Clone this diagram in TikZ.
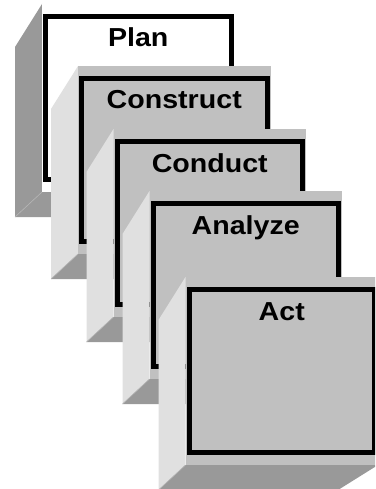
\documentclass[tikz,border=0pt]{standalone}
\usepackage{fontspec}
\setmainfont{Liberation Sans}
\definecolor{facegray}{HTML}{C0C0C0}
\definecolor{sidelight}{HTML}{E0E0E0}
\definecolor{sidedark}{HTML}{999999}
\definecolor{edgeline}{HTML}{B4B4B4}
\tikzset{
  framebox/.style={draw=black, line width=5pt, line join=miter},
  labeltext/.style={anchor=base, inner sep=0pt, font=\fontsize{26}{26}\selectfont\bfseries},
}
% #1 name, #2 fx, #3 fy, #4 label, #5 front fill, #6 side fill
\newcommand\cubeblock[6]{%
  \fill[#6] (#2,#3) -- (#2-27,#3+43) -- (#2-27,#3+213) -- (#2,#3+188) -- cycle;
  \fill[sidedark] (#2,#3+188) -- (#2+192.5,#3+188) -- (#2+152.5,#3+213) -- (#2-27,#3+213) -- cycle;
  \draw[edgeline, line width=0.6pt] (#2,#3+188) -- (#2-27,#3+213);
  \fill[#5] (#2,#3) rectangle (#2+192.5,#3+188);
  \draw[framebox] (#2+3.5,#3+12.5) rectangle (#2+189,#3+175.5);
  \node[labeltext] (#1) at (#2+96.25,#3+43) {\scalebox{1.1}[1]{#4}};
}
\begin{document}
\begin{tikzpicture}[x=1pt,y=-1pt]
\useasboundingbox (0,0) rectangle (375,489);
\clip (0,0) rectangle (375,489);
\cubeblock{plan}{42}{4}{Plan}{white}{sidedark}
\cubeblock{construct}{78}{66}{Construct}{facegray}{sidelight}
\cubeblock{conduct}{113.5}{129}{Conduct}{facegray}{sidelight}
\cubeblock{analyze}{149.5}{191}{Analyze}{facegray}{sidelight}
\cubeblock{act}{185.5}{277}{Act}{facegray}{sidelight}
\end{tikzpicture}
\end{document}
